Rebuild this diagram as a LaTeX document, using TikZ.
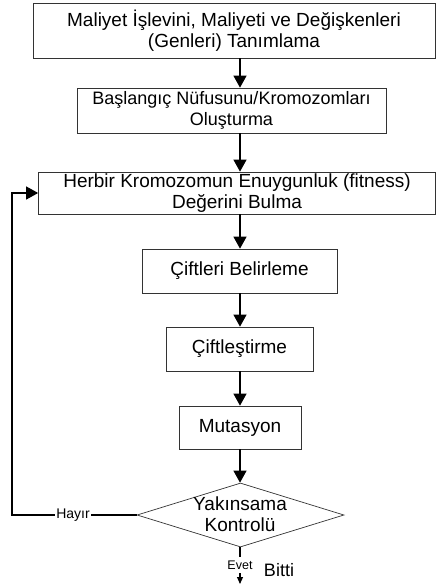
\documentclass[tikz,border=0pt]{standalone}
\usepackage{fontspec}
\setmainfont{Liberation Sans}
\usetikzlibrary{arrows.meta,shapes.geometric}
\begin{document}
\begin{tikzpicture}[x=1pt,y=-1pt,
  box/.style={draw=black!80,line width=0.7pt,align=center,inner sep=0pt,font=\fontsize{19}{21}\selectfont},
  conn/.style={line width=1.1pt,-{Triangle[length=12pt,width=13pt]}},
  small/.style={font=\fontsize{14}{15}\selectfont,fill=white,inner sep=1pt}]
\useasboundingbox (0,0) rectangle (436,587);
\node[box,minimum width=402pt,minimum height=55pt] (b1) at (234,30.5) {Maliyet İşlevini, Maliyeti ve Değişkenleri\\(Genleri) Tanımlama};
\node[box,minimum width=309pt,minimum height=45pt,font=\fontsize{18}{21}\selectfont] (b2) at (231.5,110.5) {Başlangıç Nüfusunu/Kromozomları\\Oluşturma};
\node[box,minimum width=397pt,minimum height=42pt] (b3) at (237,193) {Herbir Kromozomun Enuygunluk (fitness)\\Değerini Bulma};
\node[box,minimum width=195pt,minimum height=44pt] (b4) at (239.5,271) {Çiftleri Belirleme};
\node[box,minimum width=147pt,minimum height=44pt] (b5) at (239.5,349) {Çiftleştirme};
\node[box,minimum width=122pt,minimum height=43pt] (b6) at (240,427.5) {Mutasyon};
\node[box,diamond,aspect=3.2,minimum width=207pt,minimum height=64pt,inner sep=0pt] (d) at (240.5,515) {};
\node[font=\fontsize{19}{21}\selectfont,align=center] (dt) at (240,514) {Yakınsama\\Kontrolü};
\coordinate (c) at (240,0);
\coordinate (lx) at (12,0);
\coordinate (endp) at (240,584);
\node[font=\fontsize{18}{20}\selectfont] (bitti) at (279,570) {Bitti};
\draw[conn] (b1.south -| c) -- (b2.north -| c);
\draw[conn] (b2.south -| c) -- (b3.north -| c);
\draw[conn] (b3.south -| c) -- (b4.north -| c);
\draw[conn] (b4.south -| c) -- (b5.north -| c);
\draw[conn] (b5.south -| c) -- (b6.north -| c);
\draw[conn] (b6.south -| c) -- (d.north -| c);
\draw[conn] (d.west) -- node[small,pos=0.51]{Hayır} (d.west -| lx) |- (b3.west);
\draw[line width=1.1pt,-{Triangle[length=7pt,width=6pt]}] (d.south -| c) -- node[small,font=\fontsize{12.5}{13}\selectfont,inner ysep=4pt,pos=0.48]{Evet} (endp);
\end{tikzpicture}
\end{document}
